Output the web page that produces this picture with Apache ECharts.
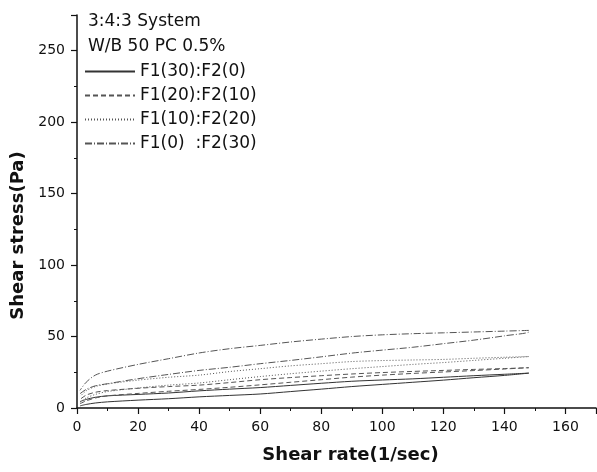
<!DOCTYPE html>
<html>
<head>
<meta charset="utf-8">
<script src="https://cdn.jsdelivr.net/npm/echarts@6/dist/echarts.min.js"></script>
<style>
  html, body { margin: 0; padding: 0; background: #fff; }
  #chart { width: 597px; height: 472px; }
</style>
</head>
<body>
<div id="chart"></div>
<script>
// shear rate grid (1/sec), ramp up then ramp down
const shearRate = [1, 3, 6, 10, 20, 30, 40, 50, 60, 70, 80, 90, 100, 110, 120, 130, 140, 148];

// shear stress (Pa), up curve and down curve for each mix
const f30Up   = [1.5, 2.5, 3.5, 4.3, 5.5, 6.5, 7.8, 8.8, 9.8, 11.5, 13.2, 15, 16.5, 18, 19.5, 21.2, 22.8, 24.4];
const f30Down = [4.5, 6, 7.5, 8.5, 9.5, 10.5, 12, 13.2, 14.3, 15.8, 17.3, 18.7, 19.6, 20.4, 21.5, 22.6, 23.6, 24.4];
const f20Up   = [3, 5, 7, 8.5, 10.2, 11.7, 13, 14.5, 16.2, 18, 19.8, 21.6, 23, 24.2, 25.2, 26.2, 27.3, 28.2];
const f20Down = [6, 9, 11, 12.2, 13.8, 15, 16, 17.8, 19.8, 21.3, 22.6, 23.8, 24.8, 25.6, 26.3, 27, 27.6, 28.2];
const f10Up   = [4, 7, 9.5, 11.5, 14, 16, 17.5, 19.8, 22, 24, 25.8, 27.5, 29, 30.5, 31.8, 33.3, 34.8, 36];
const f10Down = [8, 12, 15, 16.8, 19.5, 21.5, 23, 25.5, 27.5, 29.5, 31, 32.5, 33.2, 33.6, 34, 34.8, 35.5, 36];
const f0Up    = [10, 13, 15.5, 17, 20.5, 23.5, 26.3, 28.5, 31, 33.3, 35.8, 38.4, 40.5, 42.5, 45, 47.5, 50.5, 53.3];
const f0Down  = [12.4, 18, 23, 25.8, 30.5, 34.5, 38.5, 41.5, 43.8, 46.2, 48.2, 50, 51.2, 52, 52.6, 53.2, 53.8, 54.3];

const seriesNames = ['F1(30):F2(0)', 'F1(20):F2(10)', 'F1(10):F2(20)', 'F1(0)  :F2(30)'];
const lineTypes = ['solid', [5, 3], [1, 2], [7, 2, 1, 2]];
const upCurves = [f30Up, f20Up, f10Up, f0Up];
const downCurves = [f30Down, f20Down, f10Down, f0Down];

const FONT = 'DejaVu Sans';

function loop(up, down) {
  const pts = shearRate.map((x, i) => [x, up[i]]);
  for (let i = shearRate.length - 1; i >= 0; i--) pts.push([shearRate[i], down[i]]);
  return pts;
}

const chart = echarts.init(document.getElementById('chart'));

const option = {
  animation: false,
  backgroundColor: '#fff',
  title: {
    text: '3:4:3 System\nW/B 50 PC 0.5%',
    left: 83, top: 4,
    textStyle: { fontFamily: FONT, fontSize: 17, fontWeight: 'normal', color: '#111', lineHeight: 25 }
  },
  legend: {
    data: seriesNames,
    orient: 'vertical',
    left: 79, top: 58,
    itemWidth: 50, itemHeight: 14, itemGap: 7,
    itemStyle: { opacity: 0 },
    textStyle: { fontFamily: FONT, fontSize: 17, color: '#111', padding: [0, 0, 0, 0] }
  },
  grid: { left: 77, right: 1, top: 15, bottom: 64, containLabel: false },
  xAxis: {
    type: 'value', min: 0, max: 170, interval: 20,
    name: 'Shear rate(1/sec)', nameLocation: 'middle', nameGap: 38,
    nameTextStyle: { fontFamily: FONT, fontSize: 18, fontWeight: 'bold', color: '#111', padding: [0, 0, 0, 28] },
    axisLine: { lineStyle: { color: '#111', width: 1.5 } },
    axisTick: { length: 6, lineStyle: { color: '#111', width: 1.2 } },
    minorTick: { show: true, splitNumber: 2, length: 3, lineStyle: { color: '#111' } },
    axisLabel: { fontFamily: FONT, fontSize: 14, color: '#111', margin: 12, showMaxLabel: false },
    splitLine: { show: false }
  },
  yAxis: {
    type: 'value', min: 0, max: 275, interval: 50,
    name: 'Shear stress(Pa)', nameLocation: 'middle', nameGap: 50,
    nameTextStyle: { fontFamily: FONT, fontSize: 18, fontWeight: 'bold', color: '#111', padding: [0, 48, 0, 0] },
    axisLine: { show: true, lineStyle: { color: '#111', width: 1.5 } },
    axisTick: { show: true, length: 6, lineStyle: { color: '#111', width: 1.2 } },
    minorTick: { show: true, splitNumber: 2, length: 3, lineStyle: { color: '#111' } },
    axisLabel: { fontFamily: FONT, fontSize: 14, color: '#111', margin: 12, showMaxLabel: false },
    splitLine: { show: false }
  },
  series: seriesNames.map((name, i) => ({
    name,
    type: 'line',
    symbol: 'none',
    smooth: 0.3,
    data: loop(upCurves[i], downCurves[i]),
    lineStyle: { color: i === 0 ? '#333' : '#555', width: 1, type: lineTypes[i] },
    itemStyle: { color: '#555' }
  }))
};

chart.setOption(option);
</script>
</body>
</html>
